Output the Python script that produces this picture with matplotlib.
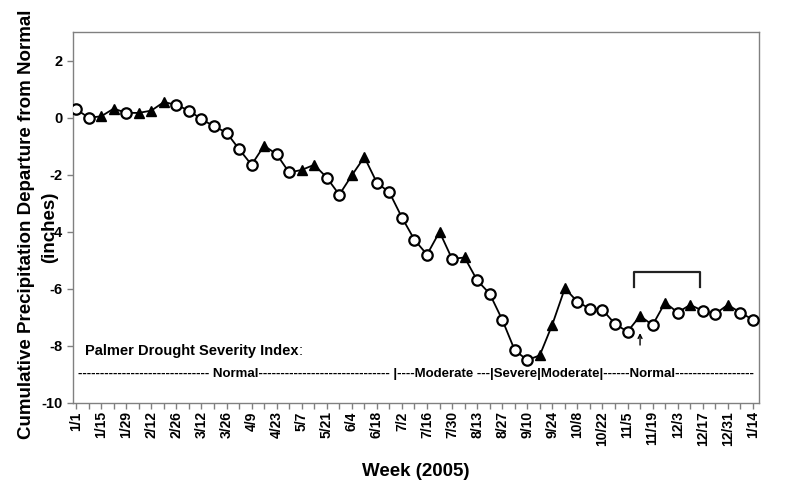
import numpy as np
import matplotlib
matplotlib.use("Agg")
import matplotlib.pyplot as plt

plt.rcParams['font.family'] = ['Liberation Sans', 'DejaVu Sans']
plt.rcParams['font.weight'] = 'bold'
plt.rcParams['axes.unicode_minus'] = False

# weekly cumulative departure from normal (inches), week of 1/1/2005 .. 1/14/2006
departure = [0.30, 0.00, 0.05, 0.32, 0.17, 0.17, 0.25, 0.55, 0.45, 0.25,
             -0.05, -0.30, -0.52, -1.10, -1.65, -0.98, -1.28, -1.92, -1.83, -1.65,
             -2.10, -2.70, -2.02, -1.38, -2.28, -2.62, -3.50, -4.28, -4.80, -4.00,
             -4.95, -4.90, -5.70, -6.17, -7.08, -8.15, -8.50, -8.33, -7.25, -5.98,
             -6.45, -6.70, -6.73, -7.23, -7.50, -6.95, -7.27, -6.48, -6.83, -6.56,
             -6.77, -6.88, -6.56, -6.83, -7.08]
# 1 = week drawn with a filled triangle, 0 = open circle
triangle = [0, 0, 1, 1, 0, 1, 1, 1, 0, 0,
            0, 0, 0, 0, 0, 1, 0, 0, 1, 1,
            0, 0, 1, 1, 0, 0, 0, 0, 0, 1,
            0, 1, 0, 0, 0, 0, 0, 1, 1, 1,
            0, 0, 0, 0, 0, 1, 0, 1, 0, 1,
            0, 0, 1, 0, 0]
week_labels = ["1/1", "1/15", "1/29", "2/12", "2/26", "3/12", "3/26", "4/9", "4/23",
               "5/7", "5/21", "6/4", "6/18", "7/2", "7/16", "7/30", "8/13", "8/27",
               "9/10", "9/24", "10/8", "10/22", "11/5", "11/19", "12/3", "12/17",
               "12/31", "1/14"]
pdsi_line = ("-" * 30 + " Normal" + "-" * 30 + " |----Moderate ---|Severe|Moderate|"
             "------Normal" + "-" * 18)

x = np.arange(len(departure))
y = np.array(departure)
tri = np.array(triangle, dtype=bool)

fig = plt.figure(figsize=(7.85, 4.95), dpi=100)
ax = fig.add_axes([0.093, 0.186, 0.874, 0.749])

ax.plot(x, y, color='black', lw=1.3, zorder=2)
ax.plot(x[~tri], y[~tri], 'o', ms=7.5, mfc='white', mec='black', mew=1.6, zorder=3)
ax.plot(x[tri], y[tri], '^', ms=7.5, mfc='black', mec='black', zorder=3)

ax.set_xlim(-0.25, 54.5)
ax.set_ylim(-10, 3)
ax.set_yticks(np.arange(-10, 3, 2))
ax.set_xticks(x)
full_labels = [''] * len(x)
for i, lab in enumerate(week_labels):
    full_labels[2 * i] = lab
ax.set_xticklabels(full_labels, rotation=90, fontsize=10, fontweight='bold')
ax.tick_params(axis='y', labelsize=10.5, length=4, color='#808080', width=1)
ax.tick_params(axis='x', length=4, color='#808080', width=1, pad=2)
for s in ax.spines.values():
    s.set_color('#808080')
    s.set_linewidth(1)

# y label as two separate lines, like the original
fig.text(27 / 785, 1 - 224 / 495, "Cumulative Precipitation Departure from Normal",
         rotation=90, ha='center', va='center', fontsize=13.5, fontweight='bold')
fig.text(50 / 785, 1 - 227 / 495, "(inches)",
         rotation=90, ha='center', va='center', fontsize=13.5, fontweight='bold')
ax.set_xlabel("Week (2005)", fontsize=13.5, fontweight='bold', labelpad=12)

# drought index annotation
ax.text(0.72, -8.18, "Palmer Drought Severity Index", fontsize=10.5,
        fontweight='bold', va='center', ha='left')
ax.text(17.75, -8.18, ":", fontsize=10.5, fontweight='normal', va='center', ha='left')
ax.text(0.16, -9.0, pdsi_line, fontsize=9.5, fontweight='bold', va='center', ha='left')

# bracket and arrow
ax.plot([44.5, 44.5, 49.8, 49.8], [-5.94, -5.42, -5.42, -5.94], color='#222222', lw=1.6)
ax.annotate("", xy=(45, -7.55), xytext=(45, -7.97),
            arrowprops=dict(arrowstyle='->', color='black', lw=1, shrinkA=0, shrinkB=0,
                            mutation_scale=7))

fig.savefig("out.png", dpi=100)
